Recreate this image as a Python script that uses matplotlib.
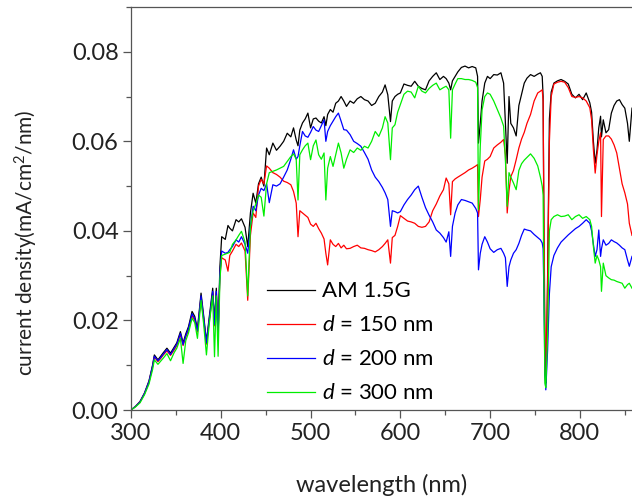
import matplotlib
matplotlib.use("Agg")
import matplotlib.pyplot as plt
from matplotlib.ticker import MultipleLocator

plt.rcParams['font.family'] = ['Lato', 'DejaVu Sans']
plt.rcParams['mathtext.fontset'] = 'custom'
plt.rcParams['mathtext.rm'] = 'Lato'
plt.rcParams['mathtext.it'] = 'Lato:italic'

# wavelength grid (nm)
wavelength = [
    300, 305, 310, 315, 320, 324, 326, 330, 333, 336,
    340, 344, 348, 351, 355, 358, 361, 364, 368, 371,
    374, 378, 381, 384, 387, 391, 393, 395, 397, 399,
    401, 405, 408, 410, 413, 417, 420, 423, 427, 430,
    433, 436, 439, 442, 445, 448, 451, 454, 458, 462,
    466, 470, 474, 478, 481, 484, 486, 488, 491, 494,
    497, 500, 503, 506, 509, 512, 515, 517, 519, 522,
    525, 528, 531, 534, 537, 540, 544, 548, 552, 556,
    560, 564, 568, 572, 576, 580, 583, 586, 589, 591,
    594, 597, 600, 604, 608, 612, 616, 620, 624, 628,
    632, 636, 640, 644, 648, 651, 654, 656, 658, 661,
    664, 668, 672, 676, 680, 684, 686, 687, 689, 691,
    694, 697, 700, 704, 708, 712, 715, 717, 719, 721,
    723, 726, 729, 732, 735, 738, 741, 745, 749, 753,
    756, 758, 759, 760, 761, 762, 763, 764, 766, 768,
    771, 775, 779, 783, 787, 791, 795, 799, 803, 807,
    811, 813, 815, 817, 819, 821, 823, 824, 826, 829,
    832, 835, 838, 841, 844, 847, 850, 853, 855, 858,
]

# AM 1.5G spectrum as current density (mA/cm^2/nm)
am15g = [
    0.0000, 0.0008, 0.0019, 0.0038, 0.0065, 0.0100, 0.0123, 0.0112, 0.0120, 0.0128,
    0.0138, 0.0127, 0.0140, 0.0150, 0.0175, 0.0150, 0.0170, 0.0186, 0.0220, 0.0209,
    0.0181, 0.0261, 0.0209, 0.0153, 0.0205, 0.0272, 0.0196, 0.0272, 0.0173, 0.0320,
    0.0387, 0.0381, 0.0412, 0.0406, 0.0400, 0.0425, 0.0420, 0.0427, 0.0408, 0.0365,
    0.0440, 0.0484, 0.0462, 0.0505, 0.0520, 0.0500, 0.0585, 0.0570, 0.0596, 0.0580,
    0.0589, 0.0600, 0.0618, 0.0610, 0.0630, 0.0603, 0.0590, 0.0625, 0.0641, 0.0650,
    0.0663, 0.0630, 0.0650, 0.0652, 0.0645, 0.0641, 0.0655, 0.0635, 0.0660, 0.0671,
    0.0665, 0.0685, 0.0690, 0.0700, 0.0690, 0.0678, 0.0690, 0.0685, 0.0695, 0.0700,
    0.0693, 0.0690, 0.0680, 0.0685, 0.0700, 0.0710, 0.0726, 0.0704, 0.0644, 0.0690,
    0.0700, 0.0705, 0.0708, 0.0728, 0.0725, 0.0723, 0.0734, 0.0723, 0.0718, 0.0715,
    0.0735, 0.0745, 0.0753, 0.0738, 0.0745, 0.0740, 0.0730, 0.0715, 0.0735, 0.0745,
    0.0755, 0.0765, 0.0768, 0.0764, 0.0767, 0.0764, 0.0745, 0.0596, 0.0640, 0.0690,
    0.0730, 0.0745, 0.0740, 0.0749, 0.0748, 0.0753, 0.0730, 0.0641, 0.0551, 0.0700,
    0.0640, 0.0630, 0.0612, 0.0680, 0.0705, 0.0730, 0.0741, 0.0749, 0.0745, 0.0750,
    0.0753, 0.0745, 0.0700, 0.0350, 0.0080, 0.0060, 0.0150, 0.0300, 0.0650, 0.0710,
    0.0730, 0.0735, 0.0738, 0.0734, 0.0728, 0.0705, 0.0697, 0.0705, 0.0693, 0.0708,
    0.0686, 0.0665, 0.0600, 0.0551, 0.0580, 0.0630, 0.0656, 0.0610, 0.0648, 0.0619,
    0.0626, 0.0663, 0.0680, 0.0690, 0.0693, 0.0682, 0.0674, 0.0640, 0.0600, 0.0674,
]

d150 = [
    0.0000, 0.0008, 0.0018, 0.0036, 0.0062, 0.0096, 0.0118, 0.0108, 0.0115, 0.0123,
    0.0132, 0.0122, 0.0134, 0.0144, 0.0168, 0.0144, 0.0163, 0.0178, 0.0211, 0.0200,
    0.0174, 0.0250, 0.0200, 0.0147, 0.0196, 0.0260, 0.0188, 0.0260, 0.0166, 0.0300,
    0.0340, 0.0335, 0.0310, 0.0345, 0.0355, 0.0370, 0.0365, 0.0373, 0.0355, 0.0245,
    0.0390, 0.0440, 0.0430, 0.0500, 0.0515, 0.0505, 0.0545, 0.0540, 0.0530, 0.0526,
    0.0520, 0.0511, 0.0508, 0.0503, 0.0488, 0.0462, 0.0387, 0.0445, 0.0440, 0.0435,
    0.0430, 0.0415, 0.0410, 0.0417, 0.0405, 0.0395, 0.0382, 0.0350, 0.0324, 0.0380,
    0.0370, 0.0365, 0.0372, 0.0362, 0.0368, 0.0360, 0.0361, 0.0365, 0.0368, 0.0362,
    0.0361, 0.0358, 0.0356, 0.0353, 0.0358, 0.0365, 0.0372, 0.0380, 0.0328, 0.0385,
    0.0390, 0.0410, 0.0434, 0.0428, 0.0422, 0.0420, 0.0417, 0.0410, 0.0408, 0.0410,
    0.0420, 0.0445, 0.0460, 0.0478, 0.0492, 0.0518, 0.0505, 0.0436, 0.0510, 0.0516,
    0.0520, 0.0525, 0.0530, 0.0536, 0.0540, 0.0545, 0.0548, 0.0432, 0.0470, 0.0520,
    0.0556, 0.0560, 0.0566, 0.0585, 0.0592, 0.0598, 0.0604, 0.0570, 0.0440, 0.0490,
    0.0521, 0.0535, 0.0559, 0.0585, 0.0605, 0.0620, 0.0640, 0.0660, 0.0690, 0.0708,
    0.0712, 0.0715, 0.0690, 0.0400, 0.0200, 0.0080, 0.0150, 0.0280, 0.0600, 0.0700,
    0.0728, 0.0732, 0.0734, 0.0732, 0.0720, 0.0700, 0.0698, 0.0700, 0.0697, 0.0690,
    0.0675, 0.0648, 0.0581, 0.0529, 0.0570, 0.0600, 0.0619, 0.0432, 0.0604, 0.0612,
    0.0612, 0.0605, 0.0592, 0.0574, 0.0540, 0.0505, 0.0485, 0.0460, 0.0417, 0.0390,
]

d200 = [
    0.0000, 0.0008, 0.0018, 0.0037, 0.0063, 0.0098, 0.0120, 0.0110, 0.0117, 0.0125,
    0.0135, 0.0124, 0.0137, 0.0147, 0.0171, 0.0146, 0.0166, 0.0182, 0.0215, 0.0204,
    0.0177, 0.0255, 0.0204, 0.0150, 0.0200, 0.0265, 0.0191, 0.0265, 0.0169, 0.0305,
    0.0355, 0.0350, 0.0352, 0.0358, 0.0365, 0.0380, 0.0375, 0.0387, 0.0370, 0.0350,
    0.0410, 0.0455, 0.0445, 0.0480, 0.0495, 0.0490, 0.0505, 0.0463, 0.0503, 0.0500,
    0.0505, 0.0520, 0.0536, 0.0560, 0.0581, 0.0560, 0.0566, 0.0590, 0.0622, 0.0612,
    0.0609, 0.0620, 0.0633, 0.0625, 0.0622, 0.0635, 0.0648, 0.0600, 0.0622, 0.0635,
    0.0645, 0.0655, 0.0663, 0.0645, 0.0626, 0.0625, 0.0615, 0.0600, 0.0595, 0.0589,
    0.0575, 0.0560, 0.0536, 0.0520, 0.0510, 0.0497, 0.0485, 0.0470, 0.0410, 0.0445,
    0.0443, 0.0440, 0.0443, 0.0458, 0.0470, 0.0480, 0.0492, 0.0500, 0.0475, 0.0452,
    0.0435, 0.0420, 0.0402, 0.0395, 0.0385, 0.0375, 0.0398, 0.0343, 0.0410, 0.0440,
    0.0458, 0.0470, 0.0468, 0.0465, 0.0462, 0.0450, 0.0440, 0.0313, 0.0350, 0.0370,
    0.0387, 0.0375, 0.0360, 0.0352, 0.0358, 0.0361, 0.0350, 0.0340, 0.0276, 0.0320,
    0.0335, 0.0350, 0.0358, 0.0372, 0.0390, 0.0404, 0.0402, 0.0400, 0.0392, 0.0385,
    0.0380, 0.0373, 0.0360, 0.0250, 0.0080, 0.0045, 0.0090, 0.0134, 0.0260, 0.0320,
    0.0345, 0.0362, 0.0375, 0.0383, 0.0391, 0.0398, 0.0405, 0.0410, 0.0417, 0.0425,
    0.0417, 0.0400, 0.0370, 0.0343, 0.0358, 0.0402, 0.0343, 0.0360, 0.0380, 0.0368,
    0.0372, 0.0380, 0.0376, 0.0373, 0.0368, 0.0362, 0.0358, 0.0335, 0.0321, 0.0343,
]

d300 = [
    0.0000, 0.0007, 0.0016, 0.0034, 0.0058, 0.0090, 0.0112, 0.0102, 0.0109, 0.0116,
    0.0126, 0.0110, 0.0128, 0.0138, 0.0160, 0.0104, 0.0155, 0.0172, 0.0205, 0.0195,
    0.0160, 0.0245, 0.0190, 0.0123, 0.0190, 0.0255, 0.0119, 0.0255, 0.0120, 0.0290,
    0.0345, 0.0348, 0.0350, 0.0352, 0.0370, 0.0380, 0.0390, 0.0399, 0.0375, 0.0255,
    0.0410, 0.0445, 0.0460, 0.0480, 0.0475, 0.0433, 0.0505, 0.0530, 0.0533, 0.0536,
    0.0540, 0.0544, 0.0555, 0.0566, 0.0572, 0.0560, 0.0469, 0.0570, 0.0581, 0.0590,
    0.0596, 0.0559, 0.0590, 0.0603, 0.0570, 0.0560, 0.0574, 0.0469, 0.0540, 0.0566,
    0.0544, 0.0570, 0.0596, 0.0574, 0.0540, 0.0560, 0.0581, 0.0575, 0.0585, 0.0580,
    0.0589, 0.0585, 0.0600, 0.0622, 0.0611, 0.0630, 0.0655, 0.0641, 0.0559, 0.0630,
    0.0637, 0.0665, 0.0682, 0.0705, 0.0712, 0.0710, 0.0697, 0.0723, 0.0712, 0.0708,
    0.0718, 0.0725, 0.0730, 0.0715, 0.0720, 0.0723, 0.0715, 0.0607, 0.0715, 0.0728,
    0.0740, 0.0740, 0.0738, 0.0738, 0.0736, 0.0732, 0.0720, 0.0447, 0.0589, 0.0670,
    0.0700, 0.0708, 0.0705, 0.0690, 0.0671, 0.0652, 0.0634, 0.0558, 0.0455, 0.0530,
    0.0520, 0.0507, 0.0492, 0.0535, 0.0550, 0.0558, 0.0564, 0.0572, 0.0562, 0.0545,
    0.0520, 0.0500, 0.0480, 0.0250, 0.0060, 0.0050, 0.0110, 0.0170, 0.0400, 0.0425,
    0.0432, 0.0436, 0.0432, 0.0433, 0.0436, 0.0425, 0.0432, 0.0436, 0.0428, 0.0432,
    0.0425, 0.0410, 0.0365, 0.0328, 0.0345, 0.0335, 0.0320, 0.0265, 0.0328, 0.0300,
    0.0295, 0.0291, 0.0290, 0.0287, 0.0285, 0.0283, 0.0272, 0.0280, 0.0283, 0.0272,
]

fig = plt.figure(figsize=(6.32, 4.98), dpi=100)
ax = fig.add_axes([0.2073, 0.1767, 0.7927, 0.8093])

ax.plot(wavelength, am15g, color='black', lw=0.9, label='AM 1.5G')
ax.plot(wavelength, d150, color='#ff0000', lw=0.9, label='$d$ = 150 nm')
ax.plot(wavelength, d200, color='#0000ff', lw=0.9, label='$d$ = 200 nm')
ax.plot(wavelength, d300, color='#00ee00', lw=0.9, label='$d$ = 300 nm')

ax.set_xlim(300, 858)
ax.set_ylim(0, 0.09)
ax.xaxis.set_major_locator(MultipleLocator(100))
ax.xaxis.set_minor_locator(MultipleLocator(50))
ax.yaxis.set_major_locator(MultipleLocator(0.02))
ax.yaxis.set_minor_locator(MultipleLocator(0.01))
ax.yaxis.set_major_formatter(plt.FormatStrFormatter('%.2f'))

for side in ['left', 'bottom', 'top']:
    ax.spines[side].set_color('#555555')
    ax.spines[side].set_linewidth(0.9)
ax.spines['right'].set_visible(False)
ax.tick_params(which='major', direction='out', length=6, width=0.9,
               color='#555555', labelsize=17, labelcolor='#222222', pad=3)
ax.tick_params(which='minor', direction='out', length=3.5, width=0.9, color='#555555')
ax.tick_params(top=False, which='both')

ax.set_xlabel('wavelength (nm)', fontsize=17, color='#222222', labelpad=22)
ax.set_ylabel('current density(mA/cm$^2$/nm)', fontsize=15, color='#222222')
ax.yaxis.set_label_coords(-0.182, 0.415)

ax.legend(loc='lower left', bbox_to_anchor=(0.2395, -0.022), frameon=False,
          fontsize=16, handlelength=2.16, handletextpad=0.32, labelspacing=0.63,
          borderpad=0.2)

fig.savefig('out.png', dpi=100)
